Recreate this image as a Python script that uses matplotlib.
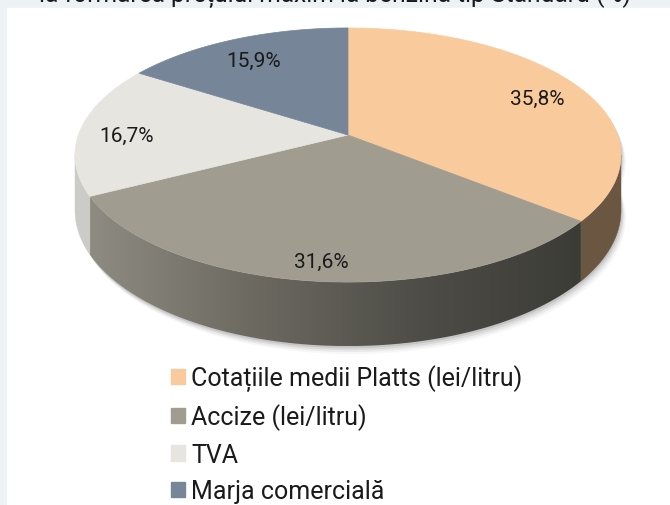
import matplotlib.pyplot as plt
import numpy as np
from matplotlib.patches import Polygon, Rectangle
from matplotlib.colors import LinearSegmentedColormap

# data
labels = ['Cotațiile medii Platts (lei/litru)', 'Accize (lei/litru)', 'TVA', 'Marja comercială']
shares = [35.8, 31.6, 16.7, 15.9]
pct_text = ['35,8%', '31,6%', '16,7%', '15,9%']
top_colors = ['#f9cb9c', '#a09d90', '#e6e5e0', '#778599']
side_colors = ['#6b5641', None, '#cbcbc7', '#5a6475']
title = 'la formarea prețului maxim la benzina tip Standard (%)'

plt.rcParams['font.family'] = ['Roboto', 'DejaVu Sans']

# 3d look of the pie (perspective tilt)
K = 0.1575      # perspective strength
TILT = 0.4596   # vertical squash of the top face
DEPTH = 0.20    # thickness of the pie
SCALE = 269.6   # px per unit radius
CX, CY = 348, 136


def proj(phi, z=0.0):
    p = np.radians(phi)
    w = 1 + K * np.sin(p)
    return np.cos(p) / w, (TILT * np.sin(p) - z) / w


def arc(a0, a1, z=0.0, n=80):
    ph = np.linspace(a0, a1, n)
    x, y = proj(ph, z)
    return np.column_stack([x, y])


fig = plt.figure(figsize=(6.7, 5.06), dpi=100, facecolor='#edf2f5')
fig.patches.append(Rectangle((7 / 670, 0), 663 / 670, 497 / 506, transform=fig.transFigure,
                             color='white', zorder=-5))
ax = fig.add_axes([0, 0, 1, 1])
ax.set_zorder(2)
ax.patch.set_alpha(0)
xl = (-CX / SCALE, (670 - CX) / SCALE)
yl = (-(506 - CY) / SCALE, CY / SCALE)
ax.set_xlim(*xl)
ax.set_ylim(*yl)
ax.axis('off')

# slice angles, clockwise from 12 o'clock
bounds = 90 - np.concatenate([[0], np.cumsum(shares)]) * 3.6
vis0, vis1 = -np.degrees(np.arcsin(K)), -180 + np.degrees(np.arcsin(K))

# soft shadow under the pie
for k, a in zip([8, 6, 4, 2], [0.03, 0.05, 0.07, 0.09]):
    sh = np.vstack([arc(vis0 + 20, vis1 + 5, DEPTH, 200), arc(vis1 + 5, vis0 + 20, 0.0, 200)])
    ax.add_patch(Polygon(sh + [k / SCALE * 0.6, -k / SCALE], closed=True, color='black',
                         alpha=a, lw=0, zorder=1))

# side walls
grad = LinearSegmentedColormap.from_list('side', ['#8e8b82', '#6c6961', '#4e4d47', '#3c3c37'])
for i in range(len(shares)):
    a0, a1 = bounds[i], bounds[i + 1]
    s0, s1 = min(a0, vis0), max(a1, vis1)
    if s0 <= s1:
        continue
    poly = np.vstack([arc(s0, s1, 0), arc(s1, s0, DEPTH)])
    if side_colors[i] is None:
        p = Polygon(poly, closed=True, facecolor='none', lw=0, zorder=2)
        ax.add_patch(p)
        x0, x1 = poly[:, 0].min(), poly[:, 0].max()
        y0, y1 = poly[:, 1].min(), poly[:, 1].max()
        im = ax.imshow(np.linspace(0, 1, 256)[None, :], cmap=grad, aspect='auto',
                       extent=(x0, x1, y0, y1), zorder=2, interpolation='bilinear')
        im.set_clip_path(p)
    else:
        ax.add_patch(Polygon(poly, closed=True, facecolor=side_colors[i], edgecolor=side_colors[i],
                             lw=0.3, zorder=2))
ax.set_xlim(*xl)
ax.set_ylim(*yl)

# top face
for i in range(len(shares)):
    pts = np.vstack([[0, 0], arc(bounds[i], bounds[i + 1], 0, 120)])
    ax.add_patch(Polygon(pts, closed=True, facecolor=top_colors[i], edgecolor=top_colors[i],
                         lw=0.5, zorder=3))

# value labels
for i in range(len(shares)):
    mid = (bounds[i] + bounds[i + 1]) / 2
    p = np.radians(mid)
    w = 1 + K * np.sin(p)
    r = 0.83
    ax.text(r * np.cos(p) / w, r * TILT * np.sin(p) / w - 5 / SCALE, pct_text[i],
            ha='center', va='center', fontsize=15, color='#1a1a1a', zorder=5)

# legend
handles = [Rectangle((0, 0), 1, 1, color=c) for c in top_colors]
fig.legend(handles, labels, loc='upper left', bbox_to_anchor=(171 / 670, 1 - 365 / 506),
           frameon=False, fontsize=18, handlelength=0.55, handleheight=0.55, handletextpad=0.25,
           labelspacing=0.5, labelcolor='#1a1a1a', borderaxespad=0, borderpad=0)

fig.text(335 / 670, 1 - 1.5 / 506, title, ha='center', va='baseline', fontsize=17.7, color='#1a1a1a')

fig.savefig('out.png', dpi=100, facecolor=fig.get_facecolor())
